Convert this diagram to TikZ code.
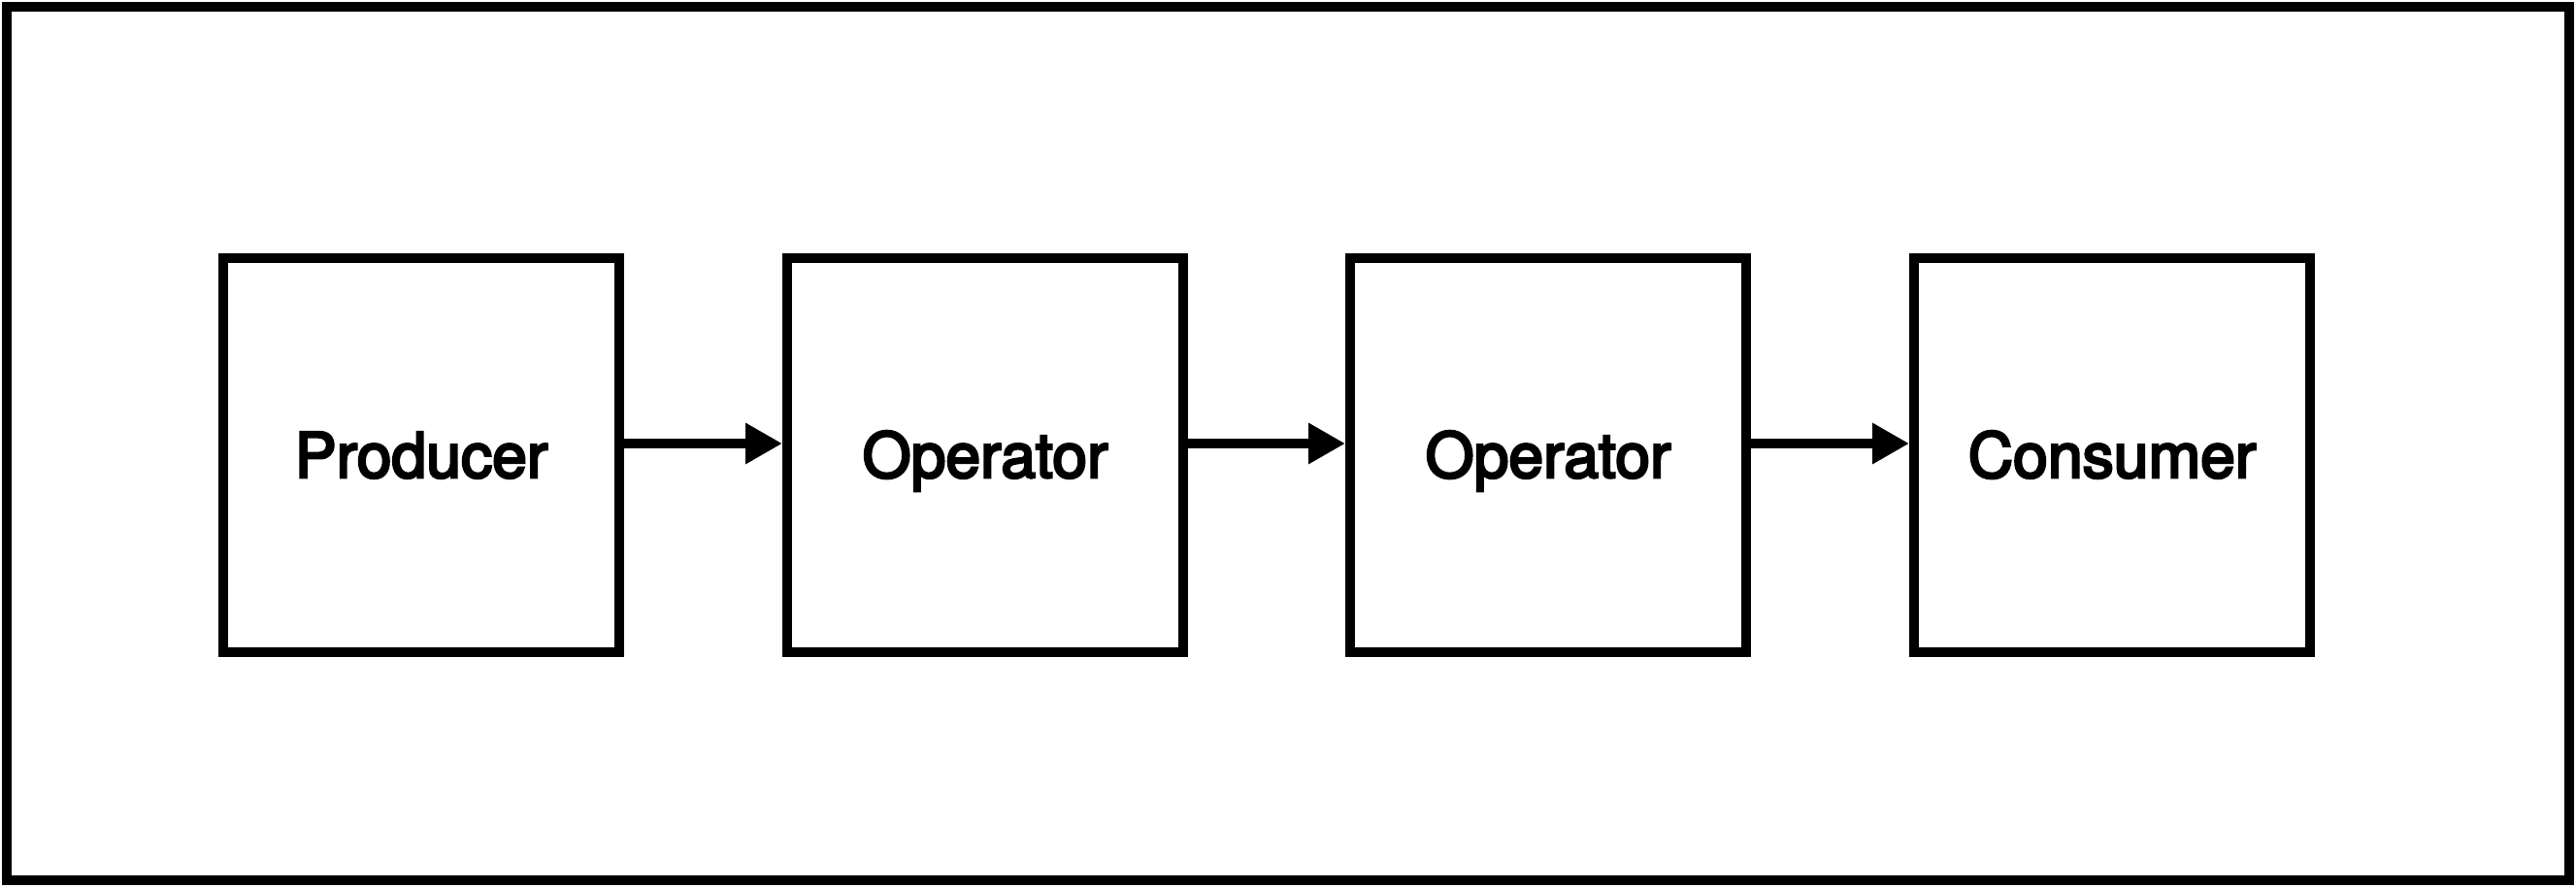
\documentclass[tikz,border=0pt]{standalone}
\usepackage{fontspec}
\setmainfont{TeX Gyre Heros}
\newfontfamily\labelfont[FakeBold=4]{TeX Gyre Heros}
\usetikzlibrary{arrows.meta}

\begin{document}
\begin{tikzpicture}[
        stage/.style={draw, line width=1mm, minimum width=4.08cm, minimum height=4.06cm,
            text height=13.1pt, text depth=0pt,
            font=\labelfont\fontsize{18.3pt}{22pt}\selectfont},
        flow/.style={-{Triangle[length=3.8mm, width=4mm]}, line width=1mm}
    ]
        \useasboundingbox (0, 0) rectangle (26.54, 9.14);
        % Frame
        \draw[line width=1mm] (0.07, 0.07) rectangle (26.47, 9.07);

        % Stages
        \node[stage] (prod) at (4.34, 4.45) {Producer};
        \node[stage] (op1) at (10.15, 4.45) {Operator};
        \node[stage] (op2) at (15.95, 4.45) {Operator};
        \node[stage] (cons) at (21.76, 4.45) {Consumer};

        % Arrows
        \draw[flow] ([yshift=1.2mm]prod.east) -- ([yshift=1.2mm]op1.west);
        \draw[flow] ([yshift=1.2mm]op1.east) -- ([yshift=1.2mm]op2.west);
        \draw[flow] ([yshift=1.2mm]op2.east) -- ([yshift=1.2mm]cons.west);
    \end{tikzpicture}
\end{document}
